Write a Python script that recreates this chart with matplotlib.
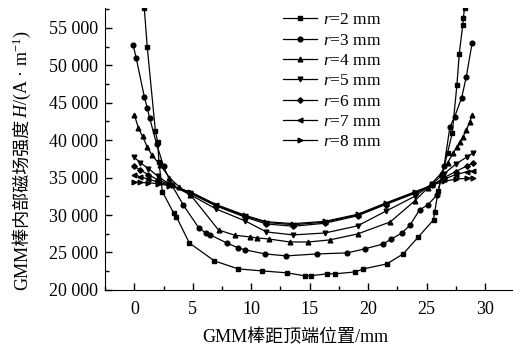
import matplotlib
matplotlib.use("Agg")
import matplotlib.pyplot as plt
from matplotlib.ticker import MultipleLocator, FuncFormatter

plt.rcParams['font.family'] = ['Liberation Serif', 'Noto Sans CJK SC']
plt.rcParams['mathtext.fontset'] = 'custom'
plt.rcParams['mathtext.rm'] = 'Liberation Serif'
plt.rcParams['mathtext.it'] = 'Liberation Serif:italic'

# 读图估计的数据
x_r2 = [0.85, 1.1, 1.8, 2.0, 2.1, 2.4, 3.35, 3.6, 4.7, 6.85, 8.9, 10.9, 13.1, 14.6, 15.1,
        16.5, 17.2, 18.9, 19.6, 21.6, 23.0, 24.3, 25.6, 25.7, 26.0, 26.8, 27.2, 27.6,
        27.8, 28.1, 28.15, 28.25]
y_r2 = [57600, 52440, 41200, 39700, 37100, 33100, 30300, 29750, 26270, 23870, 22800, 22540,
        22270, 21870, 21900, 22140, 22150, 22400, 22800, 23470, 24800, 27070, 29350, 30400,
        33200, 38300, 40960, 47370, 51500, 55400, 56300, 57600]

x_r3 = [-0.1, 0.15, 0.85, 1.1, 1.3, 1.9, 2.5, 3.2, 4.2, 5.5, 6.1, 6.5, 7.9, 8.9, 9.5, 11.2,
        13.0, 15.6, 18.2, 19.7, 21.3, 22.0, 22.9, 23.6, 24.4, 25.1, 25.9, 26.5, 27.0, 27.4,
        28.0, 28.4, 28.9]
y_r3 = [52700, 51000, 45800, 44300, 43000, 39500, 36500, 34000, 31300, 28300, 27600, 27340,
        26270, 25600, 25340, 24800, 24540, 24800, 24940, 25470, 26140, 26800, 27600, 28680,
        30680, 31350, 32680, 36500, 41760, 43100, 45630, 48430, 52970]

x_r4 = [0, 0.35, 0.7, 1.1, 1.5, 2.2, 3.0, 3.8, 4.8, 7.2, 8.6, 9.9, 10.5, 11.5, 13.3, 14.9,
        16.7, 19.1, 21.9, 24.0, 25.1, 26.2, 26.8, 27.3, 27.6, 27.9, 28.1, 28.4, 28.7, 28.9]
y_r4 = [43360, 41600, 40500, 39100, 38000, 36700, 35000, 33800, 32700, 28000, 27300, 27070,
        26940, 26800, 26400, 26400, 26670, 27470, 29080, 31900, 33600, 35500, 37000, 38300,
        39100, 39800, 40400, 41360, 42400, 43360]

x_mid = [0, 0.5, 1.2, 2.0, 3.0, 4.8, 7.0, 9.5, 11.3, 13.6, 16.3, 19.1, 21.5, 24.0, 25.5,
         26.5, 27.5, 28.5, 29.0]
y_r5 = [37700, 37000, 36200, 35200, 34100, 32700, 30800, 29200, 27740, 27340, 27600, 28550,
        30500, 32500, 34200, 35500, 36800, 37800, 38300]
y_r6 = [36500, 36000, 35400, 34700, 34100, 32900, 31200, 29700, 28800, 28500, 28900, 29900,
        31400, 32900, 34000, 35000, 35800, 36600, 36950]
y_r7 = [35400, 35100, 34800, 34400, 34000, 33000, 31300, 29850, 29000, 28700, 29050, 30000,
        31500, 33000, 34000, 34800, 35400, 35800, 35900]
y_r8 = [34400, 34350, 34300, 34200, 33900, 33100, 31400, 29950, 29100, 28850, 29150, 30100,
        31600, 33100, 34000, 34500, 34800, 34900, 34950]

series = [
    (x_r2, y_r2, 's', '$r$=2 mm'),
    (x_r3, y_r3, 'o', '$r$=3 mm'),
    (x_r4, y_r4, '^', '$r$=4 mm'),
    (x_mid, y_r5, 'v', '$r$=5 mm'),
    (x_mid, y_r6, 'D', '$r$=6 mm'),
    (x_mid, y_r7, '<', '$r$=7 mm'),
    (x_mid, y_r8, '>', '$r$=8 mm'),
]

fig = plt.figure(figsize=(5.13, 3.48), dpi=100)
ax = fig.add_axes([0.205, 0.167, 0.795, 0.81])

for xs, ys, mk, lab in series:
    ms = 2.8 if mk == 'D' else 3.4
    ax.plot(xs, ys, color='black', lw=0.9, marker=mk, ms=ms, label=lab)

ax.set_xlim(-2.5, 32.4)
ax.set_ylim(20000, 57650)
ax.spines['top'].set_visible(False)
ax.spines['right'].set_visible(False)
ax.xaxis.set_major_locator(MultipleLocator(5))
ax.xaxis.set_minor_locator(MultipleLocator(2.5))
ax.yaxis.set_major_locator(MultipleLocator(5000))
ax.yaxis.set_minor_locator(MultipleLocator(2500))
ax.yaxis.set_major_formatter(FuncFormatter(lambda v, p: '{:,}'.format(int(v)).replace(',', ' ')))
ax.tick_params(which='both', direction='in', top=False, right=False)
ax.tick_params(which='major', length=5, width=1)
ax.tick_params(which='minor', length=3, width=1)
ax.tick_params(axis='x', labelsize=13, pad=8)
ax.tick_params(axis='y', labelsize=13, pad=5)

ax.legend(loc='upper left', bbox_to_anchor=(0.527, 1.0), bbox_transform=fig.transFigure,
          frameon=False, fontsize=12.5, handlelength=2.0, handletextpad=0.35,
          labelspacing=0.24, borderpad=0.2)

fig.text(0.575, 0.03, 'GMM棒距顶端位置/mm', ha='center', va='center', fontsize=13)

# y轴标签分段拼接(H斜体)
t1 = fig.text(0.043, 0.168, 'GMM棒内部磁场强度', rotation=90, ha='center', va='bottom',
              fontsize=13)
ax.annotate('$H$/(A · m$^{-1}$)', xy=(0.5, 1.0), xycoords=t1, rotation=90,
            ha='center', va='bottom', fontsize=13)

fig.savefig('out.png', dpi=100)
